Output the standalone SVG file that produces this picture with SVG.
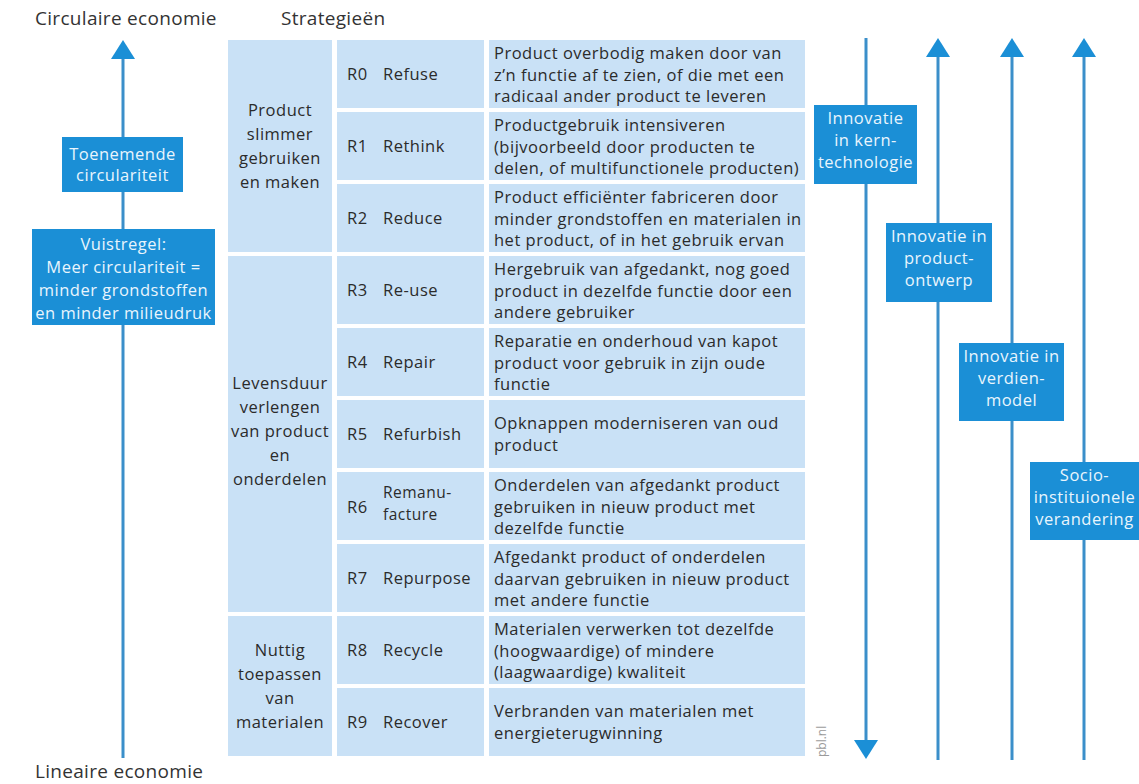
<svg xmlns="http://www.w3.org/2000/svg" width="1139" height="784" viewBox="0 0 1139 784">
<defs>
<marker id="ah" markerUnits="userSpaceOnUse" markerWidth="20" markerHeight="24" viewBox="0 0 20 24" refX="0" refY="12" orient="auto">
<path d="M0,0 L19,12 L0,24 z" fill="#1b8fd6"/>
</marker>
<style>
.t{font-family:"Open Sans","Noto Sans",sans-serif;font-size:16.5px;letter-spacing:0.5px;fill:#2b2b2b}
.c{text-anchor:middle}
.hd{font-size:19px;letter-spacing:0.3px;fill:#333}
.sm{font-size:15.5px}
.cell{fill:#c9e1f6}
.box{fill:#1b8fd6}
.bt{fill:#e9f5fd}
.ln{stroke:#3b8fca;stroke-width:3;fill:none}
.ar{marker-end:url(#ah)}
</style>
</defs>
<rect width="1139" height="784" fill="#ffffff"/>

<g id="headers">
<text class="t hd" x="35" y="25">Circulaire economie</text>
<text class="t hd" x="281" y="25">Strategieën</text>
<text class="t hd" x="35" y="778">Lineaire economie</text>
</g>

<g id="connectors">
<line class="ln ar" x1="123" y1="758" x2="123" y2="59"/>
<line class="ln ar" x1="866" y1="38" x2="866" y2="740"/>
<line class="ln ar" x1="938" y1="760" x2="938" y2="57"/>
<line class="ln ar" x1="1012" y1="760" x2="1012" y2="57"/>
<line class="ln ar" x1="1084" y1="760" x2="1084" y2="57"/>
</g>

<g id="box-toenemende">
<rect class="box" x="62" y="137" width="121" height="55"/>
<text class="t bt c" x="122.5" y="160">Toenemende</text>
<text class="t bt c" x="122.5" y="181">circulariteit</text>
</g>

<g id="box-vuistregel">
<rect class="box" x="32" y="229" width="183" height="96"/>
<text class="t bt c" x="123.5" y="250">Vuistregel:</text>
<text class="t bt c" x="123.5" y="273">Meer circulariteit =</text>
<text class="t bt c" x="123.5" y="296">minder grondstoffen</text>
<text class="t bt c" x="123.5" y="319">en minder milieudruk</text>
</g>

<g id="cat-1">
<rect class="cell" x="228" y="40" width="104" height="212"/>
<text class="t c" x="280" y="115.5">Product</text>
<text class="t c" x="280" y="139.5">slimmer</text>
<text class="t c" x="280" y="163.5">gebruiken</text>
<text class="t c" x="280" y="187.5">en maken</text>
</g>
<g id="cat-2">
<rect class="cell" x="228" y="256" width="104" height="356"/>
<text class="t c" x="280" y="389">Levensduur</text>
<text class="t c" x="280" y="413">verlengen</text>
<text class="t c" x="280" y="437">van product</text>
<text class="t c" x="280" y="461">en</text>
<text class="t c" x="280" y="485">onderdelen</text>
</g>
<g id="cat-3">
<rect class="cell" x="228" y="616" width="104" height="140"/>
<text class="t c" x="280" y="655.5">Nuttig</text>
<text class="t c" x="280" y="679.5">toepassen</text>
<text class="t c" x="280" y="703.5">van</text>
<text class="t c" x="280" y="727.5">materialen</text>
</g>

<g id="r0">
<rect class="cell" x="337" y="40" width="147" height="68"/>
<rect class="cell" x="489" y="40" width="316" height="68"/>
<text class="t" x="347" y="80">R0</text><text class="t" x="383" y="80">Refuse</text>
<text class="t" x="494" y="59">Product overbodig maken door van</text>
<text class="t" x="494" y="80.5">z’n functie af te zien, of die met een</text>
<text class="t" x="494" y="102">radicaal ander product te leveren</text>
</g>
<g id="r1">
<rect class="cell" x="337" y="112" width="147" height="68"/>
<rect class="cell" x="489" y="112" width="316" height="68"/>
<text class="t" x="347" y="152">R1</text><text class="t" x="383" y="152">Rethink</text>
<text class="t" x="494" y="131">Productgebruik intensiveren</text>
<text class="t" x="494" y="152.5">(bijvoorbeeld door producten te</text>
<text class="t" x="494" y="174">delen, of multifunctionele producten)</text>
</g>
<g id="r2">
<rect class="cell" x="337" y="184" width="147" height="68"/>
<rect class="cell" x="489" y="184" width="316" height="68"/>
<text class="t" x="347" y="224">R2</text><text class="t" x="383" y="224">Reduce</text>
<text class="t" x="494" y="203">Product efficiënter fabriceren door</text>
<text class="t" x="494" y="224.5">minder grondstoffen en materialen in</text>
<text class="t" x="494" y="246">het product, of in het gebruik ervan</text>
</g>
<g id="r3">
<rect class="cell" x="337" y="256" width="147" height="68"/>
<rect class="cell" x="489" y="256" width="316" height="68"/>
<text class="t" x="347" y="296">R3</text><text class="t" x="383" y="296">Re-use</text>
<text class="t" x="494" y="275">Hergebruik van afgedankt, nog goed</text>
<text class="t" x="494" y="296.5">product in dezelfde functie door een</text>
<text class="t" x="494" y="318">andere gebruiker</text>
</g>
<g id="r4">
<rect class="cell" x="337" y="328" width="147" height="68"/>
<rect class="cell" x="489" y="328" width="316" height="68"/>
<text class="t" x="347" y="368">R4</text><text class="t" x="383" y="368">Repair</text>
<text class="t" x="494" y="347">Reparatie en onderhoud van kapot</text>
<text class="t" x="494" y="368.5">product voor gebruik in zijn oude</text>
<text class="t" x="494" y="390">functie</text>
</g>
<g id="r5">
<rect class="cell" x="337" y="400" width="147" height="68"/>
<rect class="cell" x="489" y="400" width="316" height="68"/>
<text class="t" x="347" y="440">R5</text><text class="t" x="383" y="440">Refurbish</text>
<text class="t" x="494" y="429">Opknappen moderniseren van oud</text>
<text class="t" x="494" y="450.5">product</text>
</g>
<g id="r6">
<rect class="cell" x="337" y="472" width="147" height="68"/>
<rect class="cell" x="489" y="472" width="316" height="68"/>
<text class="t" x="347" y="513">R6</text>
<text class="t sm" x="383" y="498">Remanu-</text>
<text class="t sm" x="383" y="520">facture</text>
<text class="t" x="494" y="491">Onderdelen van afgedankt product</text>
<text class="t" x="494" y="512.5">gebruiken in nieuw product met</text>
<text class="t" x="494" y="534">dezelfde functie</text>
</g>
<g id="r7">
<rect class="cell" x="337" y="544" width="147" height="68"/>
<rect class="cell" x="489" y="544" width="316" height="68"/>
<text class="t" x="347" y="584">R7</text><text class="t" x="383" y="584">Repurpose</text>
<text class="t" x="494" y="563">Afgedankt product of onderdelen</text>
<text class="t" x="494" y="584.5">daarvan gebruiken in nieuw product</text>
<text class="t" x="494" y="606">met andere functie</text>
</g>
<g id="r8">
<rect class="cell" x="337" y="616" width="147" height="68"/>
<rect class="cell" x="489" y="616" width="316" height="68"/>
<text class="t" x="347" y="656">R8</text><text class="t" x="383" y="656">Recycle</text>
<text class="t" x="494" y="635">Materialen verwerken tot dezelfde</text>
<text class="t" x="494" y="656.5">(hoogwaardige) of mindere</text>
<text class="t" x="494" y="678">(laagwaardige) kwaliteit</text>
</g>
<g id="r9">
<rect class="cell" x="337" y="688" width="147" height="68"/>
<rect class="cell" x="489" y="688" width="316" height="68"/>
<text class="t" x="347" y="728">R9</text><text class="t" x="383" y="728">Recover</text>
<text class="t" x="494" y="717">Verbranden van materialen met</text>
<text class="t" x="494" y="738.5">energieterugwinning</text>
</g>

<g id="box-kerntechnologie">
<rect class="box" x="814" y="105" width="103" height="79"/>
<text class="t bt c" x="865.5" y="124">Innovatie</text>
<text class="t bt c" x="865.5" y="146">in kern-</text>
<text class="t bt c" x="865.5" y="168">technologie</text>
</g>
<g id="box-productontwerp">
<rect class="box" x="886" y="223" width="106" height="79"/>
<text class="t bt c" x="939" y="242">Innovatie in</text>
<text class="t bt c" x="939" y="264">product-</text>
<text class="t bt c" x="939" y="286">ontwerp</text>
</g>
<g id="box-verdienmodel">
<rect class="box" x="959" y="343" width="105" height="78"/>
<text class="t bt c" x="1011.5" y="362">Innovatie in</text>
<text class="t bt c" x="1011.5" y="384">verdien-</text>
<text class="t bt c" x="1011.5" y="406">model</text>
</g>
<g id="box-socio">
<rect class="box" x="1030" y="462" width="109" height="78"/>
<text class="t bt c" x="1084.5" y="481">Socio-</text>
<text class="t bt c" x="1084.5" y="503">instituionele</text>
<text class="t bt c" x="1084.5" y="525">verandering</text>
</g>

<text class="t" transform="translate(826,757) rotate(-90)" style="font-size:12px;letter-spacing:0;fill:#9a9a9a">pbl.nl</text>
</svg>
